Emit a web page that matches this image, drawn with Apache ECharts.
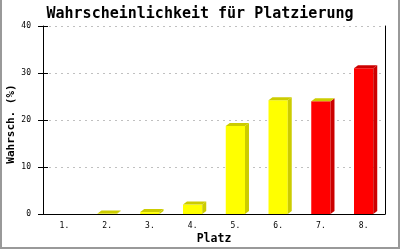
<!DOCTYPE html>
<html>
<head>
<meta charset="utf-8">
<script src="https://cdn.jsdelivr.net/npm/echarts@6/dist/echarts.min.js"></script>
<style>html,body{margin:0;padding:0;background:#fff}#c{width:400px;height:250px}</style>
</head>
<body>
<div id="c"></div>
<script>
// ---- data ----
const categories = ['1.', '2.', '3.', '4.', '5.', '6.', '7.', '8.'];
const values = [0, 0.1, 0.4, 2.0, 18.7, 24.2, 24.0, 31.0];
const yTicks = [0, 10, 20, 30, 40];
const titleText = 'Wahrscheinlichkeit für Platzierung';
const xName = 'Platz';
const yName = 'Wahrsch. (%)';

// ---- styles ----
const palette = {
  yellow: { front: '#ffff00', side: '#cccc00', top: '#cccc00' },
  red: { front: '#ff0000', side: '#cc0000', top: '#cc0000' },
  redOliveTop: { front: '#ff0000', side: '#cc0000', top: '#cccc00' }
};
const barStyleKeys = ['yellow', 'yellow', 'yellow', 'yellow', 'yellow', 'yellow', 'redOliveTop', 'red'];
const DX = 4, DY = 3;

const chart = echarts.init(document.getElementById('c'), null, { renderer: 'canvas' });
const mono = '"DejaVu Sans Mono", "Liberation Mono", monospace';
const yMin = yTicks[0], yMax = yTicks[yTicks.length - 1], yInt = yTicks[1] - yTicks[0];

function renderItem(params, api) {
  const idx = api.value(0);
  const v = api.value(1);
  if (!(v > 0)) return null;
  const base = api.coord([idx, 0]);
  const top = api.coord([idx, v]);
  const bw = api.size([1, 0])[0] * 0.45;
  const x0 = base[0] - bw / 2, x1 = base[0] + bw / 2;
  const y0 = base[1], yt = top[1];
  const st = palette[barStyleKeys[idx]];
  return {
    type: 'group',
    children: [
      { type: 'rect', shape: { x: x0, y: yt, width: bw, height: y0 - yt }, style: { fill: st.front } },
      { type: 'polygon', shape: { points: [[x1, yt], [x1 + DX, yt - DY], [x1 + DX, y0 - DY], [x1, y0]] }, style: { fill: st.side } },
      { type: 'polygon', shape: { points: [[x0, yt], [x0 + DX, yt - DY], [x1 + DX, yt - DY], [x1, yt]] }, style: { fill: st.top } }
    ]
  };
}

chart.setOption({
  animation: false,
  backgroundColor: '#ffffff',
  title: {
    text: titleText, left: 'center', top: 2,
    textStyle: { fontFamily: mono, fontWeight: 'bold', fontSize: 15, color: '#000' }
  },
  graphic: [{
    type: 'rect', shape: { x: 1, y: -5, width: 398, height: 253 },
    style: { fill: 'none', stroke: '#999999', lineWidth: 2 }, silent: true
  }],
  grid: { left: 43, right: 15, top: 26, bottom: 36, containLabel: false, outerBoundsMode: 'none' },
  xAxis: {
    type: 'category', data: categories,
    name: xName, nameLocation: 'middle', nameGap: 19, nameMoveOverlap: false,
    nameTextStyle: { fontFamily: mono, fontWeight: 'bold', fontSize: 11.5, color: '#000' },
    axisLine: { lineStyle: { color: '#000', width: 1 } },
    axisTick: { show: false },
    axisLabel: { fontFamily: mono, fontSize: 8, color: '#000', margin: 8 },
    splitLine: { show: false }
  },
  yAxis: [{
    type: 'value', min: yMin, max: yMax, interval: yInt, position: 'left',
    name: yName, nameLocation: 'middle', nameGap: 26, nameMoveOverlap: false,
    nameTextStyle: { fontFamily: mono, fontWeight: 'bold', fontSize: 11, color: '#000', padding: [0, 8, 0, 0] },
    axisLine: { show: true, lineStyle: { color: '#000', width: 1 } },
    axisTick: { show: true, length: 5, inside: false, lineStyle: { color: '#000' } },
    axisLabel: { fontFamily: mono, fontSize: 8, color: '#000', margin: 12 },
    splitLine: { show: true, lineStyle: { color: '#c0c0c0', type: [2, 4], width: 1 } }
  }, {
    type: 'value', min: yMin, max: yMax, interval: yInt, position: 'left', offset: 0,
    axisLine: { show: false },
    axisTick: { show: true, length: 5, inside: true, lineStyle: { color: '#000' } },
    axisLabel: { show: false }, splitLine: { show: false }
  }, {
    type: 'value', min: yMin, max: yMax, interval: yInt, position: 'right', offset: 0,
    axisLine: { show: true, lineStyle: { color: '#000', width: 1 } },
    axisTick: { show: false }, axisLabel: { show: false }, splitLine: { show: false }
  }],
  series: [{
    type: 'custom', renderItem: renderItem, yAxisIndex: 0,
    encode: { x: 0, y: 1 },
    data: values.map((v, i) => [i, v]),
    z: 3
  }]
});
</script>
</body>
</html>
